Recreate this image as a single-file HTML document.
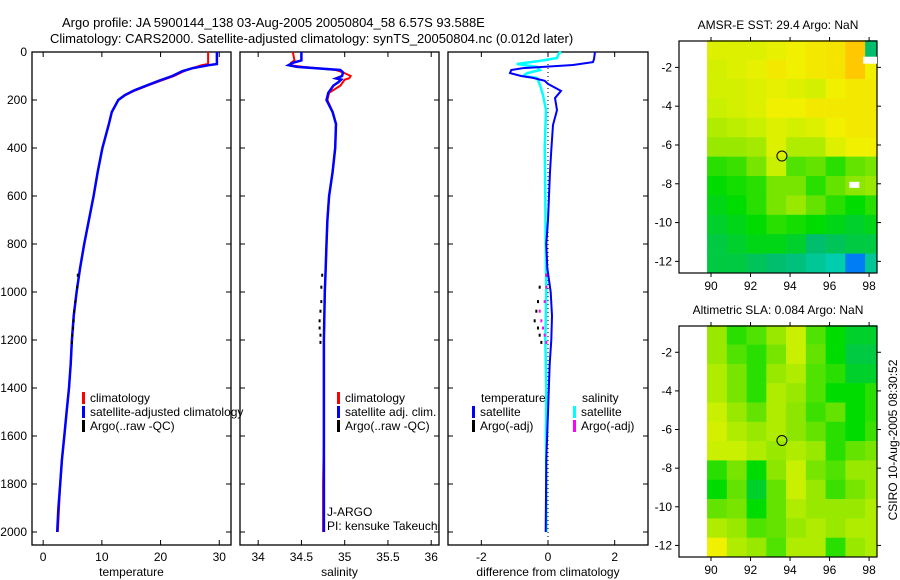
<!DOCTYPE html>
<html><head><meta charset="utf-8">
<style>
html,body{margin:0;padding:0;background:#fff;}
svg{display:block;font-family:"Liberation Sans",Arial,sans-serif;}
text{font-size:12px;fill:#000;}
</style></head>
<body>
<svg id="fig" width="900" height="580" viewBox="0 0 900 580">
<text x="62" y="27" style="font-size:13px">Argo profile: JA 5900144_138 03-Aug-2005 20050804_58 6.57S 93.588E</text>
<text x="50" y="43" style="font-size:13px">Climatology: CARS2000. Satellite-adjusted climatology: synTS_20050804.nc (0.012d later)</text>
<g id="g"></g>
</svg>
<script>
// ---- profile data ----
const depthsT=[0,50,55,67,80,100,120,140,160,180,200,250,300,400,500,600,700,800,900,1000,1100,1200,1300,1400,1500,1600,1700,1800,1900,2000];
const tempClim=[28.1,28.1,27.0,25.5,24.0,22.3,20.0,17.8,15.7,14.0,12.8,11.7,11.2,10.1,9.3,8.6,7.8,7.0,6.3,5.7,5.2,4.9,4.7,4.4,4.0,3.6,3.2,2.9,2.7,2.5];
const tempSat=[29.6,29.6,28.2,25.5,23.7,22.0,19.7,17.6,15.5,13.9,12.8,11.7,11.2,10.1,9.3,8.6,7.8,7.0,6.3,5.7,5.2,4.9,4.7,4.4,4.0,3.6,3.2,2.9,2.6,2.4];
const depthsS=[0,35,45,55,62,75,85,100,110,115,125,140,170,200,250,300,400,500,600,700,800,900,1000,1200,1400,1600,1800,2000];
const salClim=[34.40,34.42,34.38,34.37,34.52,34.90,34.98,35.07,35.05,35.00,34.98,34.95,34.82,34.80,34.86,34.90,34.89,34.86,34.82,34.80,34.79,34.78,34.77,34.76,34.76,34.76,34.75,34.75];
const salSat=[34.50,34.50,34.40,34.35,34.45,34.95,34.98,34.97,34.90,34.96,34.93,34.87,34.81,34.79,34.86,34.90,34.89,34.86,34.82,34.80,34.79,34.78,34.77,34.76,34.76,34.76,34.76,34.76];
const argoDepths=[930,980,1040,1080,1120,1150,1180,1210];
const argoTemp=[5.9,5.8,5.5,5.3,5.2,5.1,5.0,4.9];
const argoSal=[34.74,34.73,34.73,34.72,34.71,34.71,34.72,34.72];
const depthsD=[0,29,42,54,60,67,75,88,100,108,120,133,162,192,242,304,408,500,700,800,900,1000,1100,1200,1300,1500,1700,2000];
const diffTemp=[1.41,1.38,1.35,0.75,0.1,-0.75,-1.1,-1.14,-0.8,-0.45,-0.1,0.0,0.39,0.21,0.27,0.15,0.10,0.06,0.0,-0.05,-0.02,0.08,0.12,0.10,0.05,0.0,-0.05,-0.07];
const depthsDS=[0,5,25,37,50,62,75,88,100,108,125,137,179,242,400,600,800,1000,1200,1400,1600,1800,2000];
const diffSal=[0.40,0.33,0.27,-0.24,-0.94,-0.33,-0.24,-0.63,-0.75,-0.33,-0.28,-0.24,-0.15,-0.06,-0.10,-0.08,-0.07,-0.05,-0.08,-0.05,-0.06,-0.05,-0.05];
const argoDiffT=[-0.05,-0.25,-0.3,-0.35,-0.4,-0.3,-0.25,-0.2];
const argoDiffS=[-0.05,-0.05,-0.1,-0.25,-0.2,-0.15,-0.1,-0.05];
const depthTicks=[0,200,400,600,800,1000,1200,1400,1600,1800,2000];
const tempTicks=[0,10,20,30];
const salTicks=[34,34.5,35,35.5,36];
const diffTicks=[-2,0,2];
// ---- map data (1deg cells, rows from -0.6 south) ----
const lonStarts=[89.8,90.8,91.8,92.8,93.8,94.8,95.8,96.8,97.8];
const latStarts=[-0.6,-1.6,-2.6,-3.6,-4.6,-5.6,-6.6,-7.6,-8.6,-9.6,-10.6,-11.6];
const sstGrid=[
[.64,.64,.64,.65,.66,.67,.68,.72,.45],
[.63,.64,.65,.67,.66,.67,.68,.72,.66],
[.63,.63,.64,.65,.64,.63,.66,.67,.67],
[.62,.63,.64,.66,.66,.67,.67,.67,.67],
[.60,.61,.62,.64,.63,.64,.66,.67,.67],
[.58,.58,.59,.64,.60,.60,.64,.66,.66],
[.52,.53,.56,.62,.54,.55,.52,.55,.56],
[.50,.51,.52,.56,.56,.52,.55,.57,.58],
[.49,.50,.52,.56,.58,.55,.52,.50,.52],
[.48,.49,.50,.52,.51,.50,.49,.48,.49],
[.47,.48,.49,.49,.48,.45,.46,.47,.47],
[.47,.47,.46,.45,.44,.42,.40,.30,.42]];
const slaGrid=[
[.58,.52,.54,.58,.62,.54,.50,.48,.48],
[.58,.54,.52,.56,.62,.55,.50,.47,.47],
[.60,.56,.52,.58,.60,.54,.52,.48,.48],
[.60,.56,.52,.60,.58,.54,.50,.50,.52],
[.62,.58,.55,.60,.57,.53,.55,.50,.52],
[.63,.60,.58,.60,.57,.55,.52,.50,.53],
[.62,.62,.60,.58,.60,.58,.52,.55,.56],
[.52,.56,.50,.57,.62,.56,.54,.58,.58],
[.50,.55,.48,.55,.62,.58,.53,.56,.58],
[.55,.56,.50,.55,.60,.58,.58,.58,.60],
[.60,.58,.54,.55,.58,.60,.58,.60,.60],
[.66,.60,.58,.54,.60,.60,.52,.58,.60]];
const lonTicks=[90,92,94,96,98];
const latTicks=[-2,-4,-6,-8,-10,-12];

const NS="http://www.w3.org/2000/svg";
const G=document.getElementById('g');
function mk(tag,attrs,parent){const e=document.createElementNS(NS,tag);for(const k in attrs)e.setAttribute(k,attrs[k]);(parent||G).appendChild(e);return e;}
function lin(d0,d1,r0,r1){return v=>r0+(v-d0)*(r1-r0)/(d1-d0);}
const yD=lin(0,2000,52,532);
const T=52,B=545;

function panel(name,x0,x1,dmin,dmax,xt,label,ytl){
  const sx=lin(dmin,dmax,x0,x1);
  const r=mk('rect',{x:x0,y:T,width:x1-x0,height:B-T,fill:'none',stroke:'#000','stroke-width':1.3});
  
  
  xt.forEach(v=>{const x=sx(v);
    mk('line',{x1:x,x2:x,y1:B,y2:B-5,stroke:'#000'});mk('line',{x1:x,x2:x,y1:T,y2:T+5,stroke:'#000'});
    const t=mk('text',{x:x,y:561,'text-anchor':'middle'});t.textContent=v;
    
    });
  depthTicks.forEach(v=>{const y=yD(v);
    mk('line',{x1:x0,x2:x0+5,y1:y,y2:y,stroke:'#000'});mk('line',{x1:x1,x2:x1-5,y1:y,y2:y,stroke:'#000'});
    if(ytl){const t=mk('text',{x:27,y:y+4,'text-anchor':'end'});t.textContent=v;
      
      }});
  const l=mk('text',{x:(x0+x1)/2,y:576,'text-anchor':'middle'});l.textContent=label;
  
  
  return sx;
}
function line(sx,vals,depths,color,w,name){
  const pts=vals.map((v,i)=>sx(v).toFixed(1)+','+yD(depths[i]).toFixed(1)).join(' ');
  const p=mk('polyline',{points:pts,fill:'none',stroke:color,'stroke-width':w,'stroke-linejoin':'miter'});
  
  
}
function dashes(sx,vals,depths,color,name){
  vals.forEach((v,i)=>{const x=sx(v),y=yD(depths[i]);
    const s=mk('line',{x1:x,x2:x,y1:y-1.5,y2:y+1.5,stroke:color,'stroke-width':2});
    
    });
}
function legend(x,y,color,label,name){
  const b=mk('rect',{x:x,y:y-10,width:3,height:12,fill:color});
  
  
  const t=mk('text',{x:x+8,y:y});t.textContent=label;
  
  
}
// Panel 1 temperature
const sT=panel('temperature-panel',32,231,-1.9,32,tempTicks,'temperature',true);
line(sT,tempClim,depthsT,'#f00',2,'temp-climatology-line');
line(sT,tempSat,depthsT,'#00f',2.5,'temp-satellite-line');
dashes(sT,argoTemp,argoDepths,'#000','temp-argo-mark');
legend(82,402,'#f00','climatology','legend-climatology');
legend(82,416,'#00f','satellite-adjusted climatology','legend-satellite-adjusted');
legend(82,430,'#000','Argo(..raw -QC)','legend-argo');
// Panel 2 salinity
const sS=panel('salinity-panel',240,439,33.79,36.09,salTicks,'salinity',false);
line(sS,salClim,depthsS,'#f00',2,'sal-climatology-line');
line(sS,salSat,depthsS,'#00f',2.5,'sal-satellite-line');
dashes(sS,argoSal,argoDepths,'#000','sal-argo-mark');
legend(337,402,'#f00','climatology','legend-sal-climatology');
legend(337,416,'#00f','satellite adj. clim.','legend-sal-satellite');
legend(337,430,'#000','Argo(..raw -QC)','legend-sal-argo');
let t1=mk('text',{x:327,y:516});t1.textContent='J-ARGO';


let t2=mk('text',{x:327,y:530});t2.textContent='PI: kensuke Takeuchi';


// Panel 3 difference
const sDf=panel('difference-panel',448,648,-3,3,diffTicks,'difference from climatology',false);
const z=mk('line',{x1:sDf(0),x2:sDf(0),y1:T,y2:B,stroke:'#000','stroke-dasharray':'1,3'});


line(sDf,diffSal,depthsDS,'#0ff',2.5,'sal-diff-satellite-line');
line(sDf,diffTemp,depthsD,'#00f',2,'temp-diff-satellite-line');
dashes(sDf,argoDiffT,argoDepths,'#000','temp-diff-argo-mark');
dashes(sDf,argoDiffS,argoDepths,'#f0f','sal-diff-argo-mark');
let t3=mk('text',{x:481,y:402});t3.textContent='temperature';


let t4=mk('text',{x:582,y:402});t4.textContent='salinity';


legend(472,416,'#00f','satellite','legend-diff-temp-satellite');
legend(472,430,'#000','Argo(-adj)','legend-diff-temp-argo');
legend(573,416,'#0ff','satellite','legend-diff-sal-satellite');
legend(573,430,'#f0f','Argo(-adj)','legend-diff-sal-argo');

// ---- maps ----
function cmap(v){
  const st=[[.25,[0,60,220]],[.32,[0,150,255]],[.38,[0,210,200]],[.45,[0,190,110]],[.50,[0,220,0]],[.57,[140,230,0]],[.62,[200,240,0]],[.66,[240,240,0]],[.72,[255,200,0]],[.8,[255,140,0]]];
  if(v<=st[0][0])return 'rgb('+st[0][1]+')';
  for(let i=1;i<st.length;i++){if(v<=st[i][0]){const a=st[i-1],b=st[i],f=(v-a[0])/(b[0]-a[0]);
    return 'rgb('+a[1].map((c,k)=>Math.round(c+f*(b[1][k]-c))).join(',')+')';}}
  return 'rgb('+st[st.length-1][1]+')';
}
function map(name,top,bot,grid,title){
  const sx=lin(88.38,98.4,679,877), sy=lin(-0.64,-12.6,top,bot);
  grid.forEach((row,i)=>row.forEach((v,j)=>{
    const x0=sx(lonStarts[j]),x1=Math.min(sx(lonStarts[j]+1),877);
    const y0=sy(latStarts[i]),y1=Math.min(sy(latStarts[i]-1),bot);
    const c=mk('rect',{x:x0,y:y0,width:x1-x0+0.3,height:y1-y0+0.3,fill:cmap(v)});
    
    
  }));
  const f=mk('rect',{x:679,y:top,width:198,height:bot-top,fill:'none',stroke:'#000','stroke-width':1.2});
  
  
  lonTicks.forEach(v=>{const x=sx(v);
    mk('line',{x1:x,x2:x,y1:bot,y2:bot+4,stroke:'#000'});mk('line',{x1:x,x2:x,y1:top,y2:top-4,stroke:'#000'});
    const t=mk('text',{x:x,y:bot+17,'text-anchor':'middle'});t.textContent=v;
    
    });
  latTicks.forEach(v=>{const y=sy(v);
    mk('line',{x1:679,x2:675,y1:y,y2:y,stroke:'#000'});mk('line',{x1:877,x2:881,y1:y,y2:y,stroke:'#000'});
    const t=mk('text',{x:672,y:y+4,'text-anchor':'end'});t.textContent=v;
    
    });
  const c=mk('circle',{cx:sx(93.588),cy:sy(-6.57),r:5,fill:'none',stroke:'#000','stroke-width':1});
  
  
  const t=mk('text',{x:778,y:top-12,'text-anchor':'middle'});t.textContent=title;
  
  
  return [sx,sy];
}
const [mx,my]=map('sst-map',41,273,sstGrid,'AMSR-E SST: 29.4  Argo: NaN');
const nan1=mk('rect',{x:mx(97.7),y:my(-1.45),width:877-mx(97.7),height:7,fill:'#fff'});


const nan2=mk('rect',{x:mx(97.0),y:my(-7.9),width:10,height:6,fill:'#fff'});


map('sla-map',326,557,slaGrid,'Altimetric SLA: 0.084  Argo: NaN');
const cs=mk('text',{x:897,y:440,'text-anchor':'middle',transform:'rotate(-90 897 440)'});
cs.textContent='CSIRO 10-Aug-2005 08:30:52';


</script>
</body></html>
